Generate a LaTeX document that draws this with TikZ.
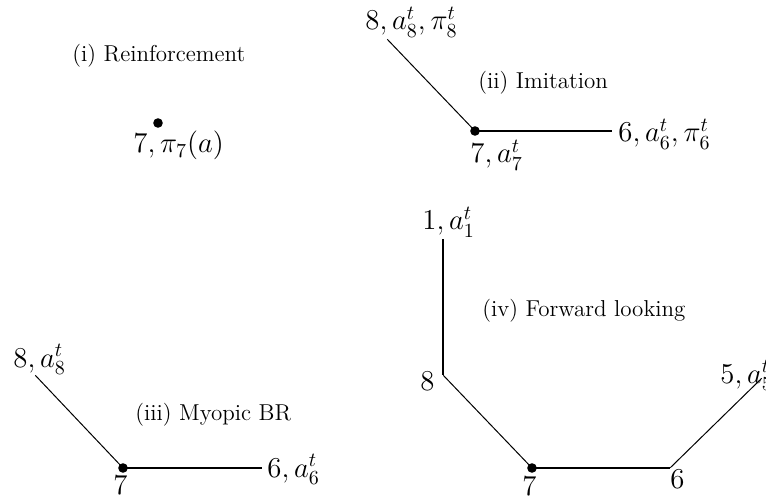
\documentclass[tikz,border=0pt]{standalone}
\begin{document}
\begin{tikzpicture}[x=0.5pt,y=-0.5pt,
  vtx/.style={circle,inner sep=0pt,minimum size=0pt},
  dotv/.style={circle,fill=black,inner sep=0pt,minimum size=4.8pt},
  lbl/.style={anchor=base west,inner sep=0pt,font=\fontsize{14}{16}\selectfont},
  captxt/.style={anchor=base west,inner sep=0pt,font=\fontsize{11.5}{13}\selectfont},
  diag/.style={line width=0.5pt},
  axl/.style={line width=0.9pt}]
\useasboundingbox (0,0) rectangle (766,497);
% (i)
\node[captxt] (capi) at (72,62) {(i) Reinforcement};
\node[dotv] (i7) at (158,123) {};
\node[lbl] (li7) at (133,153) {$7, \pi_7(a)$};
% (ii)
\node[captxt] (capii) at (478,89) {(ii) Imitation};
\node[vtx] (ii8) at (387,39) {};
\node[dotv] (ii7) at (475,131) {};
\node[vtx] (ii6) at (612,131) {};
\draw[diag] (ii8) -- (ii7.center);
\draw[axl] (ii7.center) -- (ii6);
\node[lbl] (lii8) at (365,30) {$8, a_8^t, \pi_8^t$};
\node[lbl] (lii7) at (470,163) {$7, a_7^t$};
\node[lbl] (lii6) at (618,142) {$6, a_6^t, \pi_6^t$};
% (iii)
\node[captxt] (capiii) at (135,421) {(iii) Myopic BR};
\node[vtx] (iii8) at (35,375) {};
\node[dotv] (iii7) at (123,468) {};
\node[vtx] (iii6) at (262,468) {};
\draw[diag] (iii8) -- (iii7.center);
\draw[axl] (iii7.center) -- (iii6);
\node[lbl] (liii8) at (13,367) {$8, a_8^t$};
\node[lbl] (liii7) at (113,494) {$7$};
\node[lbl] (liii6) at (267,477) {$6, a_6^t$};
% (iv)
\node[captxt] (capiv) at (482,317) {(iv) Forward looking};
\node[vtx] (iv1) at (443,239) {};
\node[vtx] (iv8) at (443,375) {};
\node[dotv] (iv7) at (532,468) {};
\node[vtx] (iv6) at (670,468) {};
\node[vtx] (iv5) at (762,378) {};
\draw[axl] (iv1) -- (iv8);
\draw[diag] (iv8) -- (iv7.center);
\draw[axl] (iv7.center) -- (iv6);
\draw[diag] (iv6) -- (iv5);
\node[lbl] (liv1) at (422,230) {$1, a_1^t$};
\node[lbl] (liv8) at (420,390) {$8$};
\node[lbl] (liv7) at (522,495) {$7$};
\node[lbl] (liv6) at (670,488) {$6$};
\node[lbl] (liv5) at (720,383) {$5, a_5^t$};
\end{tikzpicture}
\end{document}
